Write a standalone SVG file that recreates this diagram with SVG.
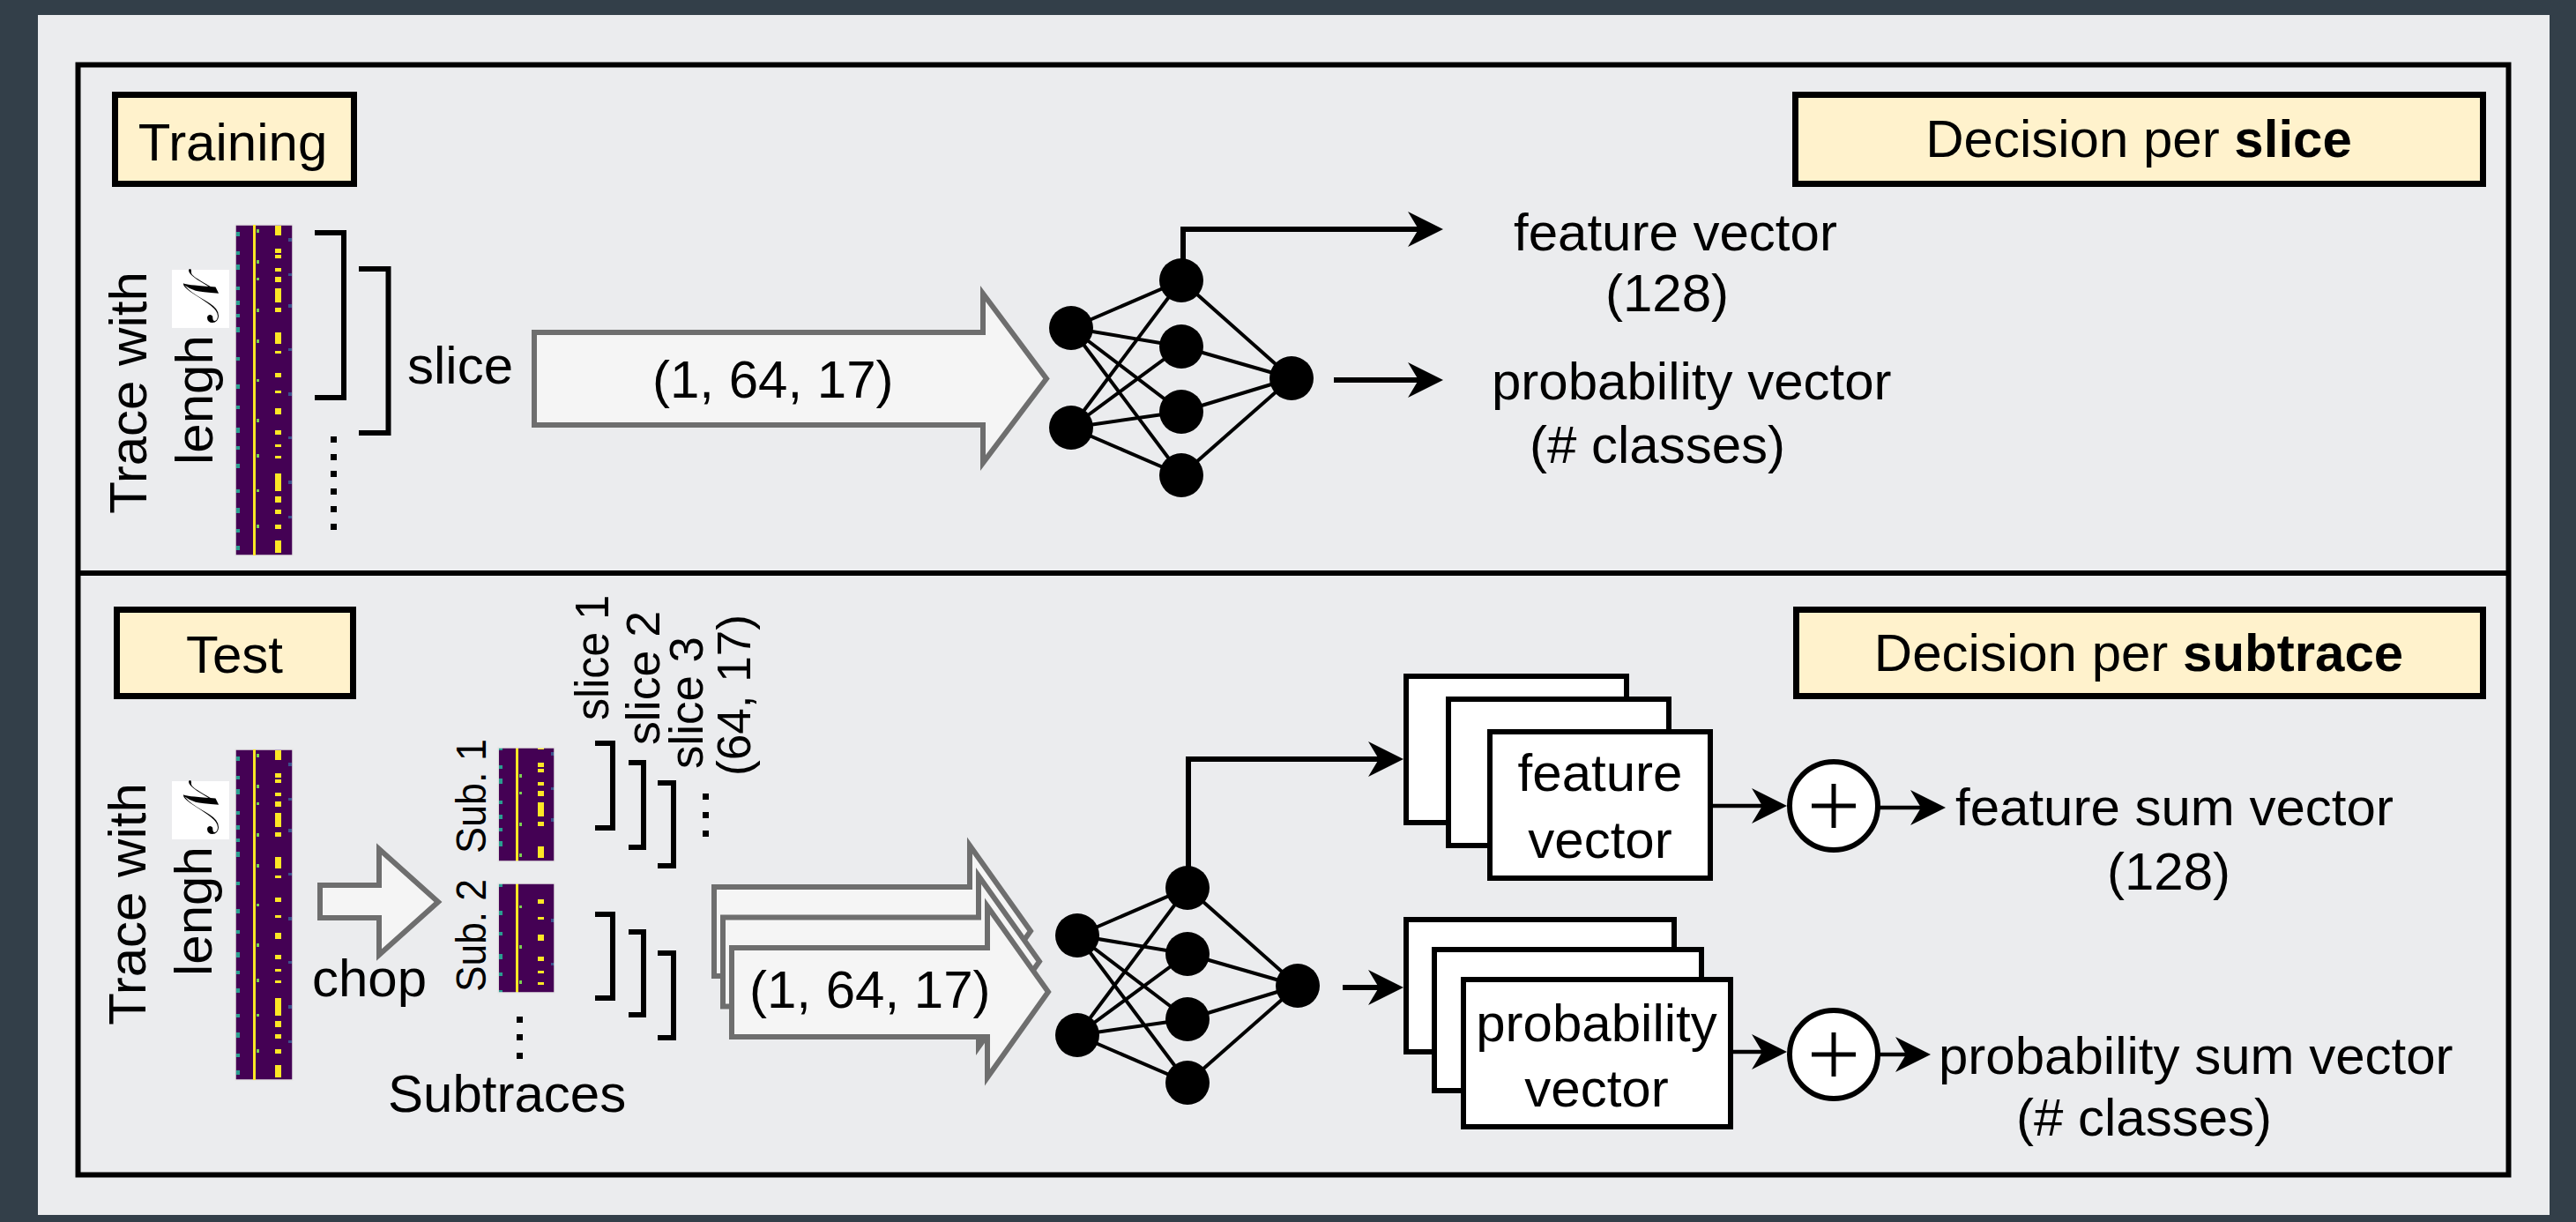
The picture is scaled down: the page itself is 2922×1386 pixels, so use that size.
<svg xmlns="http://www.w3.org/2000/svg" xmlns:xlink="http://www.w3.org/1999/xlink" width="2922" height="1386" viewBox="0 0 2922 1386">
<style>
text{font-family:"Liberation Sans",Arial,Helvetica,sans-serif;fill:#000}
.t60{font-size:60px}
.lab{fill:#fff2cc;stroke:#000;stroke-width:7}
.frame{fill:none;stroke:#000;stroke-width:6}
.big{fill:#f5f5f5;stroke:#6e6e6e;stroke-width:6;stroke-linejoin:miter}
.br{fill:none;stroke:#000;stroke-width:6}
.card{fill:#fff;stroke:#000;stroke-width:6}
.nnl{stroke:#000;stroke-width:4}
.con{fill:none;stroke:#000;stroke-width:6}
.con2{fill:none;stroke:#000;stroke-width:4.5}
.sum{fill:#fff;stroke:#000;stroke-width:6}
.plus{stroke:#000;stroke-width:5}
</style>
<defs>
<marker id="arr" markerUnits="userSpaceOnUse" viewBox="-16 -21 42 42" markerWidth="42" markerHeight="42" refX="0" refY="0" orient="auto">
<path d="M25,0 L-15,-20 L-3,0 L-15,20 Z" fill="#000"/>
</marker>
<g id="trace">
<rect x="0" y="0" width="65" height="375" fill="#440154" stroke="#e6e6e6" stroke-width="1.5"/>
<g fill="#2a9d8f">
<rect x="1" y="8" width="4" height="5"/><rect x="1" y="30" width="4" height="4"/><rect x="1" y="45" width="4" height="6"/><rect x="1" y="70" width="4" height="4"/><rect x="1" y="86" width="4" height="5"/><rect x="1" y="101" width="4" height="4"/><rect x="1" y="116" width="4" height="6"/><rect x="1" y="150" width="4" height="4"/><rect x="1" y="181" width="4" height="5"/><rect x="1" y="205" width="4" height="4"/><rect x="1" y="230" width="4" height="6"/><rect x="1" y="251" width="4" height="4"/><rect x="1" y="271" width="4" height="5"/><rect x="1" y="300" width="4" height="4"/><rect x="1" y="321" width="4" height="6"/><rect x="1" y="345" width="4" height="4"/><rect x="1" y="364" width="4" height="5"/>
</g>
<rect x="20" y="0" width="3" height="375" fill="#fde725"/>
<g fill="#7ad151">
<rect x="24" y="5" width="3" height="4"/><rect x="24" y="40" width="3" height="4"/><rect x="24" y="60" width="3" height="3"/><rect x="24" y="95" width="3" height="4"/><rect x="24" y="130" width="3" height="4"/><rect x="24" y="175" width="3" height="3"/><rect x="24" y="220" width="3" height="4"/><rect x="24" y="260" width="3" height="4"/><rect x="24" y="300" width="3" height="3"/><rect x="24" y="340" width="3" height="4"/>
</g>
<g fill="#fde725">
<rect x="45" y="1" width="7" height="11"/><rect x="45" y="27" width="7" height="5"/><rect x="45" y="34" width="7" height="4"/><rect x="45" y="49" width="7" height="4"/><rect x="45" y="59" width="7" height="6"/><rect x="45" y="72" width="7" height="16"/><rect x="45" y="94" width="7" height="5"/><rect x="45" y="122" width="7" height="13"/><rect x="45" y="143" width="7" height="3"/><rect x="45" y="168" width="7" height="5"/><rect x="45" y="188" width="7" height="3"/><rect x="45" y="208" width="7" height="7"/><rect x="45" y="233" width="7" height="5"/><rect x="45" y="249" width="7" height="3"/><rect x="45" y="262" width="7" height="3"/><rect x="45" y="282" width="7" height="20"/><rect x="45" y="308" width="7" height="7"/><rect x="45" y="323" width="7" height="5"/><rect x="45" y="340" width="7" height="5"/><rect x="45" y="358" width="7" height="14"/>
</g>
<g fill="#3b528b">
<rect x="60" y="15" width="4" height="4"/><rect x="60" y="55" width="4" height="3"/><rect x="60" y="90" width="4" height="4"/><rect x="60" y="140" width="4" height="3"/><rect x="60" y="190" width="4" height="4"/><rect x="60" y="240" width="4" height="3"/><rect x="60" y="290" width="4" height="4"/><rect x="60" y="330" width="4" height="3"/>
</g>
</g>
<g id="nn">
<g class="nnl">
<line x1="1215" y1="372" x2="1340" y2="318"/><line x1="1215" y1="372" x2="1340" y2="393"/><line x1="1215" y1="372" x2="1340" y2="467"/><line x1="1215" y1="372" x2="1340" y2="539"/>
<line x1="1215" y1="485" x2="1340" y2="318"/><line x1="1215" y1="485" x2="1340" y2="393"/><line x1="1215" y1="485" x2="1340" y2="467"/><line x1="1215" y1="485" x2="1340" y2="539"/>
<line x1="1340" y1="318" x2="1465" y2="429"/><line x1="1340" y1="393" x2="1465" y2="429"/><line x1="1340" y1="467" x2="1465" y2="429"/><line x1="1340" y1="539" x2="1465" y2="429"/>
</g>
<g fill="#000">
<circle cx="1215" cy="372" r="25"/><circle cx="1215" cy="485" r="25"/>
<circle cx="1340" cy="318" r="25"/><circle cx="1340" cy="393" r="25"/><circle cx="1340" cy="467" r="25"/><circle cx="1340" cy="539" r="25"/>
<circle cx="1465" cy="429" r="25"/>
</g>
</g>
</defs>

<rect x="0" y="0" width="2922" height="1386" fill="#333f49"/>
<rect x="43" y="17" width="2849" height="1361" fill="#ebecee"/>

<g id="panels">
<rect class="frame" x="88.5" y="73.5" width="2757" height="1259"/>
<line x1="88.5" y1="650" x2="2845.5" y2="650" stroke="#000" stroke-width="6"/>
</g>

<!-- Training section -->
<g id="training-label">
<rect class="lab" x="130.5" y="107.5" width="271" height="101"/>
<text class="t60" x="264" y="182" text-anchor="middle">Training</text>
</g>
<g id="decision-slice">
<rect class="lab" x="2036.5" y="107.5" width="780" height="101"/>
<text class="t60" x="2426" y="178" text-anchor="middle">Decision per <tspan font-weight="bold">slice</tspan></text>
</g>
<g id="trace-label-train">
<text class="t60" x="166" y="445.5" text-anchor="middle" transform="rotate(-90 166 445.5)">Trace with</text>
<text class="t60" x="241" y="527" transform="rotate(-90 241 527)">lengh</text>
<rect x="195" y="306" width="65" height="66" fill="#fff"/>
<text x="227" y="339" font-size="56" text-anchor="middle" dominant-baseline="central" transform="rotate(-90 227 339)" style="font-family:'DejaVu Serif','DejaVu Sans',serif">𝒩</text>
</g>
<g id="trace-train">
<use xlink:href="#trace" x="267" y="255"/>
</g>
<g id="slice-brackets-train">
<path class="br" d="M357,264 H390 V451 H357"/>
<path class="br" d="M407,305 H440.5 V491 H407"/>
<g fill="#000"><rect x="375" y="495" width="7" height="7"/><rect x="375" y="515" width="7" height="7"/><rect x="375" y="534" width="7" height="7"/><rect x="375" y="554" width="7" height="7"/><rect x="375" y="574" width="7" height="7"/><rect x="375" y="594" width="7" height="7"/></g>
<text class="t60" x="462" y="435">slice</text>
</g>
<g id="input-arrow-train">
<polygon class="big" points="606,377 1115,377 1115,333 1187,429.5 1115,525 1115,482 606,482"/>
<text class="t60" x="740" y="451">(1, 64, 17)</text>
</g>
<g id="nn-train">
<use xlink:href="#nn"/>
</g>
<g id="out-train">
<text class="t60" x="1717" y="284">feature vector</text>
<text class="t60" x="1821" y="353">(128)</text>
<text class="t60" x="1692" y="453">probability vector</text>
<text class="t60" x="1735" y="525">(# classes)</text>
</g>

<!-- Test section -->
<g id="test-label">
<rect class="lab" x="132.5" y="691.5" width="268" height="98"/>
<text class="t60" x="266" y="763" text-anchor="middle">Test</text>
</g>
<g id="decision-subtrace">
<rect class="lab" x="2037.5" y="691.5" width="779" height="98"/>
<text class="t60" x="2426" y="761" text-anchor="middle">Decision per <tspan font-weight="bold">subtrace</tspan></text>
</g>
<g id="trace-label-test">
<text class="t60" x="165" y="1025.5" text-anchor="middle" transform="rotate(-90 165 1025.5)">Trace with</text>
<text class="t60" x="240" y="1107" transform="rotate(-90 240 1107)">lengh</text>
<rect x="195" y="886" width="65" height="66" fill="#fff"/>
<text x="227" y="919" font-size="56" text-anchor="middle" dominant-baseline="central" transform="rotate(-90 227 919)" style="font-family:'DejaVu Serif','DejaVu Sans',serif">𝒩</text>
</g>
<g id="trace-test">
<use xlink:href="#trace" x="267" y="850"/>
</g>
<g id="chop">
<polygon class="big" points="363,1004 430,1004 430,963 497,1023 430,1083 430,1041 363,1041"/>
<text class="t60" x="354" y="1130">chop</text>
</g>
<g id="subtraces">
<svg x="565" y="848" width="64" height="129" overflow="hidden"><use xlink:href="#trace" x="0" y="-10"/></svg>
<svg x="565" y="1002" width="64" height="124" overflow="hidden"><use xlink:href="#trace" x="0" y="-150"/></svg>
<rect x="565" y="848" width="64" height="129" fill="none" stroke="#e6e6e6" stroke-width="1.5"/>
<rect x="565" y="1002" width="64" height="124" fill="none" stroke="#e6e6e6" stroke-width="1.5"/>
<text x="551" y="968" font-size="48" textLength="130" lengthAdjust="spacingAndGlyphs" transform="rotate(-90 551 968)">Sub. 1</text>
<text x="551" y="1125" font-size="48" textLength="128" lengthAdjust="spacingAndGlyphs" transform="rotate(-90 551 1125)">Sub. 2</text>
<g fill="#000"><rect x="586" y="1153" width="7" height="7"/><rect x="586" y="1173" width="7" height="7"/><rect x="586" y="1194" width="7" height="7"/></g>
<text class="t60" x="440" y="1261">Subtraces</text>
</g>
<g id="slice-brackets-test">
<path class="br" d="M675,843 H695 V939 H675"/>
<path class="br" d="M713,865 H730 V961 H713"/>
<path class="br" d="M746,888 H764 V982 H746"/>
<path class="br" d="M675,1037 H695 V1132 H675"/>
<path class="br" d="M713,1057 H730 V1151 H713"/>
<path class="br" d="M746,1081 H764 V1177 H746"/>
<g fill="#000"><rect x="797" y="900" width="7" height="7"/><rect x="797" y="921" width="7" height="7"/><rect x="797" y="942" width="7" height="7"/></g>
<text x="690" y="817" font-size="54" textLength="142" lengthAdjust="spacingAndGlyphs" transform="rotate(-90 690 817)">slice 1</text>
<text x="748" y="845" font-size="54" textLength="152" lengthAdjust="spacingAndGlyphs" transform="rotate(-90 748 845)">slice 2</text>
<text x="797" y="872" font-size="54" textLength="150" lengthAdjust="spacingAndGlyphs" transform="rotate(-90 797 872)">slice 3</text>
<text x="851" y="880" font-size="54" textLength="183" lengthAdjust="spacingAndGlyphs" transform="rotate(-90 851 880)">(64, 17)</text>
</g>
<g id="input-arrows-test">
<polygon class="big" points="810,1006 1100,1006 1100,959 1169,1056 1100,1153 1100,1107 810,1107"/>
<polygon class="big" points="820,1040.5 1110,1040.5 1110,993.5 1179,1090.5 1110,1187.5 1110,1141.5 820,1141.5"/>
<polygon class="big" points="830,1075 1120,1075 1120,1028 1189,1125 1120,1222 1120,1176 830,1176"/>
<text class="t60" x="850" y="1143">(1, 64, 17)</text>
</g>
<g id="nn-test">
<use xlink:href="#nn" x="7" y="689"/>
</g>
<g id="feature-cards">
<rect class="card" x="1595" y="767" width="250" height="166"/>
<rect class="card" x="1643" y="793" width="250" height="166"/>
<rect class="card" x="1690" y="830" width="250" height="166"/>
<text class="t60" x="1815" y="897" text-anchor="middle">feature</text>
<text class="t60" x="1815" y="973" text-anchor="middle">vector</text>
</g>
<g id="prob-cards">
<rect class="card" x="1595" y="1043" width="304" height="150"/>
<rect class="card" x="1627" y="1077" width="303" height="160"/>
<rect class="card" x="1660" y="1111" width="303" height="167"/>
<text class="t60" x="1811" y="1181" text-anchor="middle">probability</text>
<text class="t60" x="1811" y="1255" text-anchor="middle">vector</text>
</g>
<g id="sum-feature">
<circle class="sum" cx="2080" cy="914" r="50"/>
<line class="plus" x1="2055" y1="914" x2="2105" y2="914"/><line class="plus" x1="2080" y1="889" x2="2080" y2="939"/>
</g>
<g id="sum-prob">
<circle class="sum" cx="2080" cy="1196" r="50"/>
<line class="plus" x1="2055" y1="1196" x2="2105" y2="1196"/><line class="plus" x1="2080" y1="1171" x2="2080" y2="1221"/>
</g>
<g id="out-test">
<text class="t60" x="2218" y="936">feature sum vector</text>
<text class="t60" x="2390" y="1009">(128)</text>
<text class="t60" x="2199" y="1218">probability sum vector</text>
<text class="t60" x="2287" y="1288">(# classes)</text>
</g>

<g id="connectors">
<path class="con" d="M1342,318 V260 H1612" marker-end="url(#arr)"/>
<path class="con" d="M1513,431 H1612" marker-end="url(#arr)"/>
<path class="con" d="M1348,1006 V861 H1567" marker-end="url(#arr)"/>
<path class="con" d="M1523,1120 H1567" marker-end="url(#arr)"/>
<path class="con2" d="M1943,914 H2002" marker-end="url(#arr)"/>
<path class="con2" d="M1966,1193 H2002" marker-end="url(#arr)"/>
<path class="con2" d="M2130,916 H2182" marker-end="url(#arr)"/>
<path class="con2" d="M2130,1196 H2165" marker-end="url(#arr)"/>
</g>
</svg>
